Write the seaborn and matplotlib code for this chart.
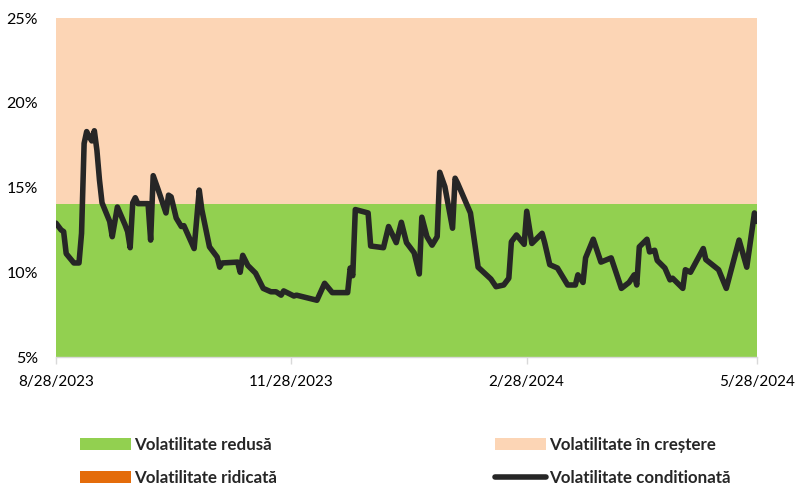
import matplotlib
matplotlib.use("Agg")
import matplotlib.pyplot as plt
import seaborn as sns
import pandas as pd
from matplotlib.patches import Patch
from matplotlib.lines import Line2D
from matplotlib.ticker import FuncFormatter

dates = [
    "2023-08-28", "2023-08-30", "2023-08-31", "2023-09-01", "2023-09-04", "2023-09-06",
    "2023-09-07", "2023-09-08", "2023-09-09", "2023-09-10", "2023-09-11", "2023-09-12",
    "2023-09-13", "2023-09-14", "2023-09-15", "2023-09-18", "2023-09-19", "2023-09-21",
    "2023-09-24", "2023-09-25", "2023-09-26", "2023-09-27", "2023-09-28", "2023-09-29",
    "2023-10-03", "2023-10-04", "2023-10-05", "2023-10-07", "2023-10-10", "2023-10-11",
    "2023-10-12", "2023-10-14", "2023-10-16", "2023-10-17", "2023-10-21", "2023-10-23",
    "2023-10-24", "2023-10-27", "2023-10-30", "2023-10-31", "2023-11-01", "2023-11-07",
    "2023-11-08", "2023-11-09", "2023-11-11", "2023-11-14", "2023-11-17", "2023-11-20",
    "2023-11-22", "2023-11-24", "2023-11-25", "2023-11-29", "2023-11-30", "2023-12-08",
    "2023-12-11", "2023-12-14", "2023-12-20", "2023-12-21", "2023-12-22", "2023-12-23",
    "2023-12-28", "2023-12-29", "2024-01-03", "2024-01-05", "2024-01-08", "2024-01-10",
    "2024-01-12", "2024-01-15", "2024-01-17", "2024-01-18", "2024-01-20", "2024-01-22",
    "2024-01-24", "2024-01-25", "2024-01-27", "2024-01-30", "2024-01-31", "2024-02-01",
    "2024-02-06", "2024-02-09", "2024-02-14", "2024-02-16", "2024-02-19", "2024-02-21",
    "2024-02-22", "2024-02-24", "2024-02-27", "2024-02-28", "2024-03-01", "2024-03-05",
    "2024-03-06", "2024-03-08", "2024-03-11", "2024-03-15", "2024-03-18", "2024-03-19",
    "2024-03-21", "2024-03-22", "2024-03-25", "2024-03-28", "2024-04-01", "2024-04-05",
    "2024-04-08", "2024-04-10", "2024-04-11", "2024-04-12", "2024-04-15", "2024-04-16",
    "2024-04-18", "2024-04-19", "2024-04-22", "2024-04-24", "2024-04-25", "2024-04-29",
    "2024-04-30", "2024-05-02", "2024-05-07", "2024-05-08", "2024-05-13", "2024-05-16",
    "2024-05-21", "2024-05-24", "2024-05-27", "2024-05-28",
]
volatility = [
    12.9, 12.5, 12.4, 11.1, 10.55, 10.55,
    12.3, 17.6, 18.3, 18.0, 17.75, 18.35,
    17.2, 15.45, 14.1, 13.0, 12.1, 13.85,
    12.8, 12.4, 11.45, 14.1, 14.4, 14.05,
    14.05, 11.9, 15.7, 14.85, 13.5, 14.55,
    14.45, 13.2, 12.7, 12.75, 11.4, 14.85,
    13.7, 11.5, 10.9, 10.3, 10.55, 10.6,
    10.0, 11.0, 10.4, 9.95, 9.05, 8.85,
    8.85, 8.65, 8.9, 8.6, 8.65, 8.35,
    9.35, 8.8, 8.8, 10.25, 9.8, 13.7,
    13.5, 11.55, 11.45, 12.7, 11.75, 12.95,
    11.75, 11.15, 9.9, 13.25, 12.1, 11.6,
    12.1, 15.9, 15.05, 12.6, 15.55, 15.25,
    13.5, 10.3, 9.6, 9.15, 9.25, 9.65,
    11.8, 12.2, 11.65, 13.6, 11.7, 12.3,
    11.75, 10.45, 10.25, 9.25, 9.25, 9.85,
    9.4, 10.85, 11.95, 10.6, 10.85, 9.05,
    9.4, 9.85, 9.25, 11.5, 11.95, 11.2,
    11.3, 10.7, 10.25, 9.55, 9.65, 9.05,
    10.15, 10.0, 11.4, 10.75, 10.15, 9.05,
    11.9, 10.3, 13.5, 13.0,
]
low_band = [5, 14]
rising_band = [14, 25]
tick_dates = ["2023-08-28", "2023-11-28", "2024-02-28", "2024-05-28"]
tick_labels = ["8/28/2023", "11/28/2023", "2/28/2024", "5/28/2024"]
y_ticks = [5, 10, 15, 20, 25]
legend_labels = ["Volatilitate redusă", "Volatilitate ridicată",
                 "Volatilitate în creștere", "Volatilitate conditionată"]

GREEN = "#92D050"
PEACH = "#FCD5B5"
ORANGE = "#E46C0A"
LINE = "#262626"

sns.set_style("white")
plt.rcParams["font.family"] = ["Lato", "DejaVu Sans"]

df = pd.DataFrame({"date": pd.to_datetime(dates), "vol": volatility})

fig = plt.figure(figsize=(7.95, 4.88), dpi=100)
ax = fig.add_axes([0.0704, 0.2684, 0.8818, 0.6946])

ax.axhspan(low_band[0], low_band[1], color=GREEN, lw=0, zorder=0)
ax.axhspan(rising_band[0], rising_band[1], color=PEACH, lw=0, zorder=0)

sns.lineplot(data=df, x="date", y="vol", ax=ax, color=LINE, linewidth=4.0,
             solid_joinstyle="round", solid_capstyle="round", zorder=3)

ax.set_xlim(pd.Timestamp(tick_dates[0]), pd.Timestamp(tick_dates[-1]))
ax.set_ylim(y_ticks[0], y_ticks[-1])
ax.set_xticks(pd.to_datetime(tick_dates))
ax.set_xticklabels(tick_labels)
ax.set_yticks(y_ticks)
ax.yaxis.set_major_formatter(FuncFormatter(lambda v, p: f"{int(v)}%"))
ax.set_xlabel("")
ax.set_ylabel("")

for s in ["top", "right", "left"]:
    ax.spines[s].set_visible(False)
ax.spines["bottom"].set_color("#D9D9D9")
ax.spines["bottom"].set_linewidth(1.0)
ax.spines["bottom"].set_zorder(4)
ax.tick_params(axis="x", length=5, width=1, color="#D9D9D9", pad=8,
               labelsize=11, labelcolor="#000000", bottom=True)
ax.tick_params(axis="y", length=0, pad=13, labelsize=11.5, labelcolor="#000000")

handles = [
    Patch(facecolor=GREEN, edgecolor="none"),
    Patch(facecolor=ORANGE, edgecolor="none"),
    Patch(facecolor=PEACH, edgecolor="none"),
    Line2D([0], [0], color=LINE, linewidth=4.0, solid_capstyle="round"),
]
leg = fig.legend(handles, legend_labels, ncol=2, loc="upper left",
                 bbox_to_anchor=(0.0817, 0.136), frameon=False,
                 prop={"weight": "bold", "size": 12.2},
                 handlelength=3.0, handleheight=0.65, handletextpad=0.2,
                 columnspacing=12.85, labelspacing=1.0, borderpad=0.4)

fig.savefig("out.png", dpi=100)
